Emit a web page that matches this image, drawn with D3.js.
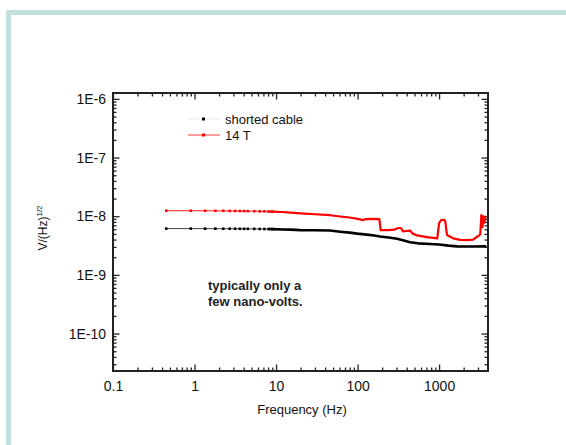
<!DOCTYPE html>
<html>
<head>
<meta charset="utf-8">
<script src="https://cdn.jsdelivr.net/npm/d3@7"></script>
<style>
  body { margin: 0; background: #fff; }
  svg { display: block; font-family: "Liberation Sans", Arial, sans-serif; }
</style>
</head>
<body>
<svg id="drawing_region"></svg>
<script>
// shorted cable (black)
const freqShorted = [0.45, 0.9, 1.35, 1.8, 2.25, 2.7, 3.15, 3.6, 4.05, 4.5, 5.4, 6.3, 7.2, 8.1, 9.0,
    12, 15, 20, 30, 46, 61, 80, 99, 130, 160, 189, 240, 305, 360, 440, 550, 776, 1000, 1300, 1663, 2500, 3780];
const voltShorted = [6.15e-9, 6.15e-9, 6.14e-9, 6.13e-9, 6.12e-9, 6.12e-9, 6.11e-9, 6.10e-9, 6.10e-9, 6.09e-9, 6.08e-9, 6.06e-9, 6.05e-9, 6.04e-9, 6.03e-9,
    5.95e-9, 5.9e-9, 5.8e-9, 5.75e-9, 5.7e-9, 5.45e-9, 5.25e-9, 5.05e-9, 4.85e-9, 4.7e-9, 4.5e-9, 4.35e-9, 4.14e-9, 3.9e-9, 3.6e-9, 3.45e-9, 3.36e-9, 3.3e-9, 3.15e-9, 3.06e-9, 3.05e-9, 3.06e-9];

// 14 T (red)
const freq14T = [0.45, 0.9, 1.35, 1.8, 2.25, 2.7, 3.15, 3.6, 4.05, 4.5, 5.4, 6.3, 7.2, 8.1, 9.0,
    12, 15, 20, 30, 46, 61, 80, 100, 117, 125, 150, 185, 192, 237, 280, 315, 340, 362, 400, 440, 470, 537, 713, 950,
    1000, 1060, 1150, 1190, 1250, 1486, 1811, 2200, 2614, 3013, 3200, 3300, 3400, 3500, 3600, 3700, 3780];
const volt14T = [1.24e-8, 1.24e-8, 1.24e-8, 1.235e-8, 1.235e-8, 1.23e-8, 1.23e-8, 1.225e-8, 1.225e-8, 1.22e-8, 1.22e-8, 1.21e-8, 1.21e-8, 1.2e-8, 1.2e-8,
    1.18e-8, 1.15e-8, 1.12e-8, 1.08e-8, 1.04e-8, 9.9e-9, 9.5e-9, 9.0e-9, 8.6e-9, 8.9e-9, 9.0e-9, 8.9e-9, 5.8e-9, 5.8e-9, 5.9e-9, 6.3e-9, 6.3e-9, 5.5e-9, 5.6e-9, 5.7e-9, 5.1e-9, 4.7e-9, 4.4e-9, 4.2e-9,
    7.6e-9, 8.6e-9, 8.7e-9, 8.2e-9, 4.8e-9, 4.2e-9, 3.95e-9, 3.9e-9, 4.0e-9, 4.6e-9, 4.9e-9, 1.05e-8, 6.5e-9, 1.0e-8, 7.8e-9, 9.8e-9, 9.9e-9];

const xTickValues = [0.1, 1, 10, 100, 1000];
const xTickLabels = ['0.1', '1', '10', '100', '1000'];
const yTickValues = [1e-6, 1e-7, 1e-8, 1e-9, 1e-10];
const yTickLabels = ['1E-6', '1E-7', '1E-8', '1E-9', '1E-10'];

const seriesNames = ['shorted cable', '14 T'];
const noteLines = ['typically only a', 'few nano-volts.'];

const width = 566, height = 445;
const margin = {top: 93, right: 78, bottom: 74, left: 113};
const innerW = width - margin.left - margin.right;
const innerH = height - margin.top - margin.bottom;

const svg = d3.select('#drawing_region')
    .attr('width', width)
    .attr('height', height);

// light teal frame of the slide
svg.append('rect').attr('x', 6).attr('y', 10).attr('width', width - 6).attr('height', 5).attr('fill', '#c3e0dc');
svg.append('rect').attr('x', 6).attr('y', 10).attr('width', 5).attr('height', height - 10).attr('fill', '#c3e0dc');

const chart = svg.append('g')
    .attr('transform', `translate(${margin.left}, ${margin.top})`);

const xscale = d3.scaleLog().domain([0.1, 3980]).range([0, innerW]);
const yscale = d3.scaleLog().domain([2.3e-11, 1.26e-6]).range([innerH, 0]);

// minor ticks 2..9 per decade, inside the domain
function minors(scale) {
    const [a, b] = scale.domain();
    const out = [];
    for (let e = Math.floor(Math.log10(a)); e <= Math.ceil(Math.log10(b)); e++) {
        for (let m = 2; m <= 9; m++) {
            const v = m * Math.pow(10, e);
            if (v >= a && v <= b) out.push(v);
        }
    }
    return out;
}

const xMinor = minors(xscale);
const yMinor = minors(yscale);

function drawAxis(axisFn, scale, translate, majors, labels, showLabels) {
    const minorVals = scale === xscale ? xMinor : yMinor;
    const g = chart.append('g').attr('transform', translate);
    g.call(axisFn(scale).tickValues(minorVals).tickSize(-3.5).tickFormat(''))
        .call(s => s.select('.domain').remove());
    const g2 = chart.append('g').attr('transform', translate);
    const ax = axisFn(scale).tickValues(majors).tickSize(-6.5)
        .tickFormat(showLabels ? (d, i) => labels[i] : '');
    if (axisFn === d3.axisBottom) ax.tickPadding(10);
    if (axisFn === d3.axisLeft) ax.tickPadding(7);
    g2.call(ax).call(s => s.select('.domain').remove());
    g2.selectAll('text').attr('font-size', 14).attr('fill', '#111').attr('font-family', null);
    [g, g2].forEach(s => s.selectAll('line').attr('stroke', '#222').attr('stroke-width', 1.3));
}

drawAxis(d3.axisBottom, xscale, `translate(0, ${innerH})`, xTickValues, xTickLabels, true);
drawAxis(d3.axisTop, xscale, 'translate(0, 0)', xTickValues, xTickLabels, false);
drawAxis(d3.axisLeft, yscale, 'translate(0, 0)', yTickValues, yTickLabels, true);
drawAxis(d3.axisRight, yscale, `translate(${innerW}, 0)`, yTickValues, yTickLabels, false);

// plot frame
chart.append('rect')
    .attr('width', innerW).attr('height', innerH)
    .attr('fill', 'none').attr('stroke', '#222').attr('stroke-width', 2);

const series = [
    {name: seriesNames[0], freq: freqShorted, volt: voltShorted, color: '#000', line: '#444', thick: 2.6},
    {name: seriesNames[1], freq: freq14T, volt: volt14T, color: '#ff0000', line: '#ff1a1a', thick: 2.2}
];

const line = d3.line()
    .x(d => xscale(d[0]))
    .y(d => yscale(d[1]));

series.forEach(s => {
    const pts = s.freq.map((f, i) => [f, s.volt[i]]);
    // thin line through the whole curve
    chart.append('path')
        .attr('d', line(pts))
        .attr('fill', 'none').attr('stroke', s.line).attr('stroke-width', 1);
    // above ~8 Hz the markers pile up into a thick trace
    chart.append('path')
        .attr('d', line(pts.filter(d => d[0] >= 8)))
        .attr('fill', 'none').attr('stroke', s.color).attr('stroke-width', s.thick)
        .attr('stroke-linejoin', 'round');
    chart.append('g').selectAll('rect')
        .data(pts.filter(d => d[0] < 10))
        .join('rect')
        .attr('x', d => xscale(d[0]) - 1.3)
        .attr('y', d => yscale(d[1]) - 1.3)
        .attr('width', 2.6).attr('height', 2.6)
        .attr('fill', s.color);
});

// legend
const legend = svg.append('g');
[119, 135].forEach((y, i) => {
    const s = series[i];
    legend.append('line')
        .attr('x1', 188).attr('x2', 220).attr('y1', y).attr('y2', y)
        .attr('stroke', i === 0 ? '#ececec' : '#ff5a5a').attr('stroke-width', 1.2);
    legend.append('rect')
        .attr('x', 202).attr('y', y - 1.5).attr('width', 3).attr('height', 3)
        .attr('fill', s.color);
    legend.append('text')
        .attr('x', 225).attr('y', y + 5)
        .attr('font-size', 13).attr('fill', '#111')
        .text(s.name);
});

// note
svg.append('g').selectAll('text')
    .data(noteLines)
    .join('text')
    .attr('x', 208)
    .attr('y', (d, i) => 290 + i * 16)
    .attr('font-size', 13).attr('font-weight', 'bold').attr('fill', '#222')
    .text(d => d);

// axis titles
svg.append('text')
    .attr('x', 302).attr('y', 414)
    .attr('text-anchor', 'middle').attr('font-size', 13).attr('fill', '#111')
    .text('Frequency (Hz)');

const ylab = svg.append('text')
    .attr('transform', 'translate(47, 228) rotate(-90)')
    .attr('text-anchor', 'middle').attr('font-size', 12).attr('fill', '#111');
ylab.append('tspan').text('V/(Hz)');
ylab.append('tspan').attr('dy', -5).attr('font-size', 8).text('1/2');
</script>
</body>
</html>
